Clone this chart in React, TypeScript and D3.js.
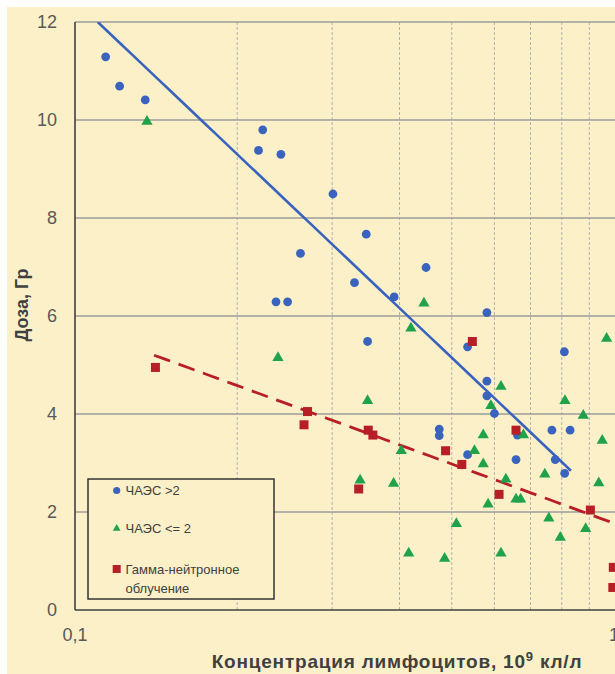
import React from "react";
import * as d3 from "d3";

// ---- data ----
const blueX = [0.114, 0.121, 0.135, 0.223, 0.219, 0.241, 0.301, 0.262, 0.236, 0.248, 0.347, 0.448, 0.330, 0.391, 0.581, 0.349, 0.535, 0.809, 0.581, 0.581, 0.600, 0.474, 0.474, 0.662, 0.767, 0.829, 0.535, 0.658, 0.778, 0.810];
const blueY = [11.29, 10.69, 10.41, 9.80, 9.38, 9.30, 8.49, 7.28, 6.29, 6.29, 7.67, 6.99, 6.68, 6.39, 6.07, 5.48, 5.37, 5.27, 4.67, 4.37, 4.01, 3.69, 3.56, 3.57, 3.67, 3.67, 3.17, 3.07, 3.07, 2.79];

const greenX = [0.136, 0.238, 0.444, 0.420, 0.969, 0.349, 0.617, 0.811, 0.591, 0.877, 0.572, 0.679, 0.951, 0.403, 0.551, 0.572, 0.338, 0.390, 0.630, 0.744, 0.937, 0.584, 0.658, 0.671, 0.757, 0.795, 0.886, 0.510, 0.416, 0.485, 0.617];
const greenY = [9.97, 5.15, 6.26, 5.75, 5.54, 4.27, 4.56, 4.27, 4.17, 3.97, 3.57, 3.57, 3.46, 3.25, 3.25, 2.98, 2.65, 2.58, 2.67, 2.77, 2.59, 2.16, 2.26, 2.26, 1.87, 1.48, 1.66, 1.76, 1.16, 1.05, 1.16];

const redX = [0.141, 0.270, 0.266, 0.350, 0.357, 0.658, 0.487, 0.522, 0.336, 0.612, 0.904, 0.997, 0.995, 0.546];
const redY = [4.95, 4.05, 3.78, 3.67, 3.57, 3.67, 3.25, 2.97, 2.47, 2.36, 2.04, 0.87, 0.46, 5.48];

// logarithmic trend lines: y = a + b*log10(x)
const blueTrend = [2.01, -10.43];
const blueTrendRange = [0.1102, 0.832];
const redTrend = [1.77, -4.02];
const redTrendRange = [0.1402, 1.0];

const yTicks = [0, 2, 4, 6, 8, 10, 12];
const xMinorGrid = [0.2, 0.3, 0.4, 0.5, 0.6, 0.7, 0.8, 0.9];
const xTickLabels = [
  { v: 0.1, t: "0,1" },
  { v: 1, t: "1" },
];
const legendLabels = ["ЧАЭС >2", "ЧАЭС <= 2", "Гамма-нейтронное", "облучение"];
const yTitle = "Доза, Гр";
const xTitleMain = "Концентрация лимфоцитов, 10";
const xTitleSup = "9";
const xTitleEnd = " кл/л";

// ---- style ----
const BG = "#FCF0C8";
const BLUE = "#3A63BE";
const GREEN = "#1FA24A";
const RED = "#B71F26";
const FONT = "'Liberation Sans', Arial, sans-serif";

export default function App() {
  const W = 615;
  const H = 674;
  const left = 75;
  const right = 614;
  const top = 22;
  const bottom = 610;

  const x = d3.scaleLog().domain([0.1, 1]).range([left, right]);
  const y = d3.scaleLinear().domain([0, 12]).range([bottom, top]);

  const trendPts = (coef: number[], range: number[]) => {
    const n = 40;
    const pts: [number, number][] = [];
    const l0 = Math.log10(range[0]);
    const l1 = Math.log10(range[1]);
    for (let i = 0; i <= n; i++) {
      const xv = Math.pow(10, l0 + ((l1 - l0) * i) / n);
      pts.push([xv, coef[0] + coef[1] * Math.log10(xv)]);
    }
    return pts;
  };
  const line = d3
    .line<[number, number]>()
    .x((d) => x(d[0]))
    .y((d) => y(d[1]));

  const tri = d3.symbol().type(d3.symbolTriangle).size(55)() as string;
  const triSmall = d3.symbol().type(d3.symbolTriangle).size(26)() as string;

  const lgX = 88;
  const lgY = 479;
  const lgW = 186;
  const lgH = 120;

  return (
    <svg
      width={W}
      height={H}
      style={{ position: "absolute", left: 0, top: 0, display: "block" }}
      fontFamily={FONT}
    >
      <rect x={0} y={0} width={W} height={H} fill="#ffffff" />
      <rect x={7} y={7} width={W - 7} height={H - 7} fill={BG} />

      <defs>
        <clipPath id="plotclip">
          <rect x={left} y={top} width={right - left + 2} height={bottom - top} />
        </clipPath>
      </defs>

      {/* vertical dashed grid */}
      {xMinorGrid.map((v) => (
        <line
          key={"vx" + v}
          x1={x(v)}
          x2={x(v)}
          y1={top}
          y2={bottom}
          stroke="#B3B3B3"
          strokeWidth={1}
          strokeDasharray="3,2"
        />
      ))}
      {/* horizontal grid */}
      {yTicks
        .filter((v) => v > 0)
        .map((v) => (
          <line
            key={"hy" + v}
            x1={left}
            x2={W}
            y1={y(v)}
            y2={y(v)}
            stroke="#9C9C9C"
            strokeWidth={1.3}
          />
        ))}

      {/* axes */}
      <line x1={left} x2={left} y1={top} y2={bottom} stroke="#404040" strokeWidth={1.6} />
      <line x1={left} x2={W} y1={bottom} y2={bottom} stroke="#404040" strokeWidth={1.6} />

      {/* tick labels */}
      {yTicks.map((v) => (
        <text
          key={"ty" + v}
          x={57}
          y={y(v)}
          dy="0.35em"
          textAnchor="end"
          fontSize={18}
          fill="#595959"
        >
          {v}
        </text>
      ))}
      {xTickLabels.map((d) => (
        <text
          key={"tx" + d.t}
          x={x(d.v)}
          y={641}
          textAnchor="middle"
          fontSize={18}
          fill="#595959"
        >
          {d.t}
        </text>
      ))}

      {/* trend lines */}
      <g clipPath="url(#plotclip)">
        <path d={line(trendPts(blueTrend, blueTrendRange)) || ""} fill="none" stroke={BLUE} strokeWidth={2.6} />
        <path
          d={line(trendPts(redTrend, redTrendRange)) || ""}
          fill="none"
          stroke={RED}
          strokeWidth={2.8}
          strokeDasharray="17,9"
        />
      </g>

      {/* markers */}
      {blueX.map((xv, i) => (
        <circle key={"b" + i} cx={x(xv)} cy={y(blueY[i])} r={4.4} fill={BLUE} />
      ))}
      {greenX.map((xv, i) => (
        <path key={"g" + i} d={tri} transform={`translate(${x(xv)},${y(greenY[i])})`} fill={GREEN} />
      ))}
      {redX.map((xv, i) => (
        <rect key={"r" + i} x={x(xv) - 4.5} y={y(redY[i]) - 4.5} width={9} height={9} fill={RED} />
      ))}

      {/* legend */}
      <rect x={lgX} y={lgY} width={lgW} height={lgH} fill={BG} stroke="#333333" strokeWidth={1.5} />
      <circle cx={116.7} cy={490.5} r={3.6} fill={BLUE} />
      <path d={triSmall} transform="translate(116.7,528.5)" fill={GREEN} />
      <rect x={112.7} y={565} width={8} height={8} fill={RED} />
      <g fontSize={13} fill="#404040">
        <text x={125.5} y={495}>{legendLabels[0]}</text>
        <text x={125.5} y={533}>{legendLabels[1]}</text>
        <text x={125.5} y={573.5}>{legendLabels[2]}</text>
        <text x={125.5} y={593}>{legendLabels[3]}</text>
      </g>

      {/* axis titles */}
      <text
        transform="translate(28,305) rotate(-90)"
        textAnchor="middle"
        fontSize={18}
        fontWeight="bold"
        fill="#404040"
      >
        {yTitle}
      </text>
      <text
        x={397}
        y={668}
        textAnchor="middle"
        fontSize={19}
        letterSpacing={0.8}
        fontWeight="bold"
        fill="#404040"
      >
        {xTitleMain}
        <tspan dy={-7} fontSize={13}>
          {xTitleSup}
        </tspan>
        <tspan dy={7}>{xTitleEnd}</tspan>
      </text>
    </svg>
  );
}
